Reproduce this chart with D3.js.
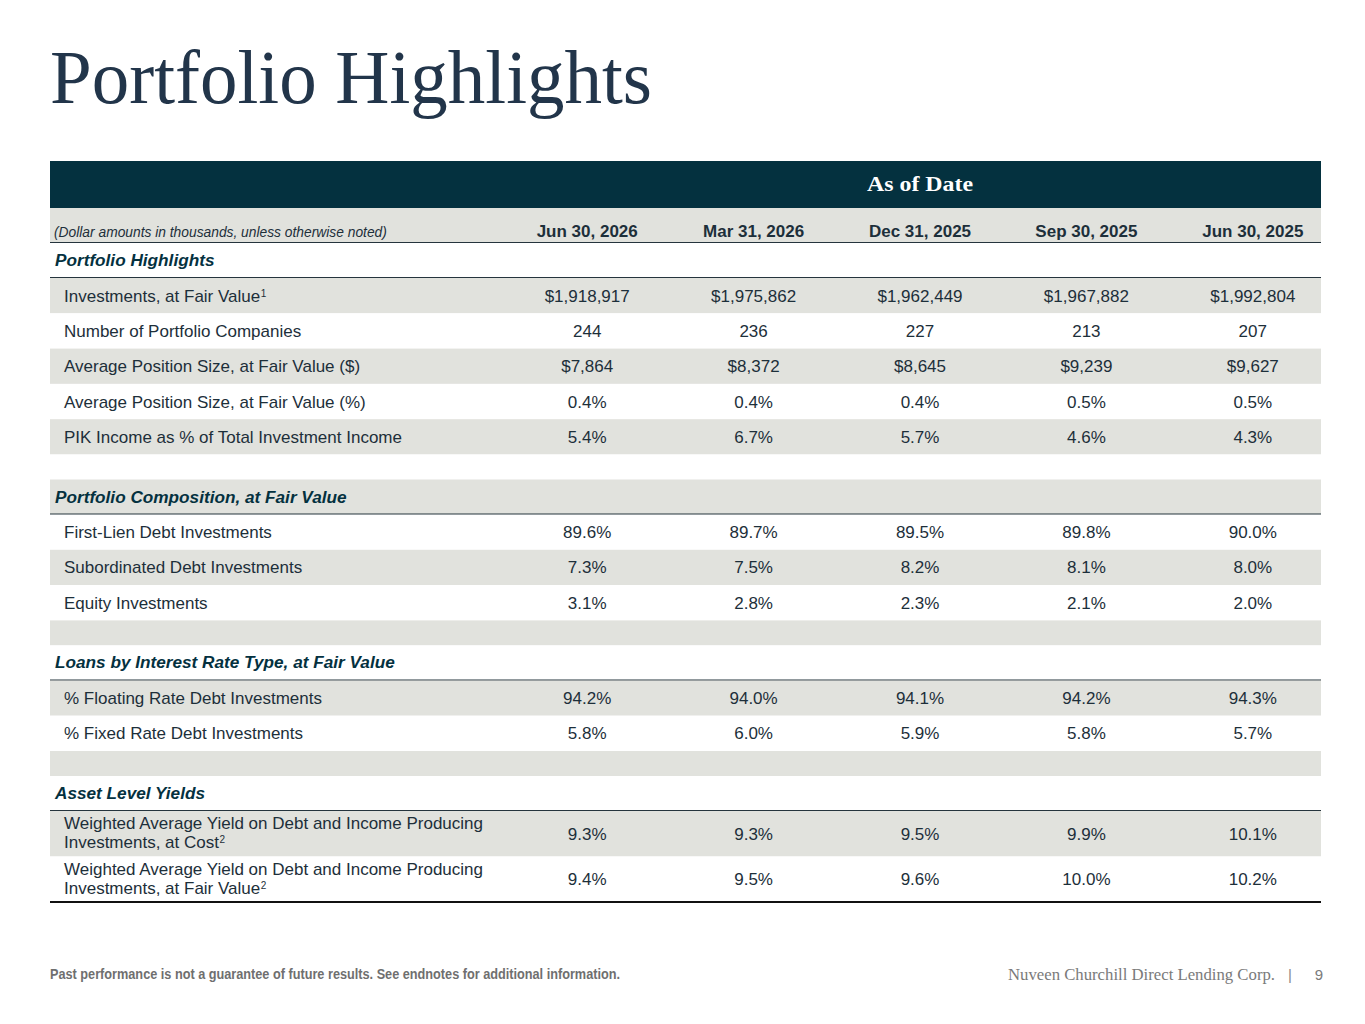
<!DOCTYPE html>
<html>
<head>
<meta charset="utf-8">
<script src="https://cdn.jsdelivr.net/npm/d3@7"></script>
<style>
  body { margin: 0; background: #fff; }
  svg text { font-family: "Liberation Sans", Arial, sans-serif; }
</style>
</head>
<body>
<svg id="chart" width="1365" height="1024"></svg>
<script>
// periods (columns)
var periods = ["Jun 30, 2026", "Mar 31, 2026", "Dec 31, 2025", "Sep 30, 2025", "Jun 30, 2025"];

// section titles
var sections = ["Portfolio Highlights", "Portfolio Composition, at Fair Value",
                "Loans by Interest Rate Type, at Fair Value", "Asset Level Yields"];

// Portfolio Highlights
var highlightLabels = ["Investments, at Fair Value|1", "Number of Portfolio Companies",
  "Average Position Size, at Fair Value ($)", "Average Position Size, at Fair Value (%)",
  "PIK Income as % of Total Investment Income"];
var highlightValues = [
  ["$1,918,917", "$1,975,862", "$1,962,449", "$1,967,882", "$1,992,804"],
  ["244", "236", "227", "213", "207"],
  ["$7,864", "$8,372", "$8,645", "$9,239", "$9,627"],
  ["0.4%", "0.4%", "0.4%", "0.5%", "0.5%"],
  ["5.4%", "6.7%", "5.7%", "4.6%", "4.3%"]
];

// Portfolio Composition
var compositionLabels = ["First-Lien Debt Investments", "Subordinated Debt Investments", "Equity Investments"];
var compositionValues = [
  ["89.6%", "89.7%", "89.5%", "89.8%", "90.0%"],
  ["7.3%", "7.5%", "8.2%", "8.1%", "8.0%"],
  ["3.1%", "2.8%", "2.3%", "2.1%", "2.0%"]
];

// Loans by rate type
var rateLabels = ["% Floating Rate Debt Investments", "% Fixed Rate Debt Investments"];
var rateValues = [
  ["94.2%", "94.0%", "94.1%", "94.2%", "94.3%"],
  ["5.8%", "6.0%", "5.9%", "5.8%", "5.7%"]
];

// Asset level yields
var yieldLabels = ["Weighted Average Yield on Debt and Income Producing~Investments, at Cost|2",
  "Weighted Average Yield on Debt and Income Producing~Investments, at Fair Value|2"];
var yieldValues = [
  ["9.3%", "9.3%", "9.5%", "9.9%", "10.1%"],
  ["9.4%", "9.5%", "9.6%", "10.0%", "10.2%"]
];

var svg = d3.select("#chart"),
    left = 50, right = 1321,
    navy = "#04313f", ink = "#1d2f3a", stripe = "#e1e2dd", rule = "#25343d",
    fs = "17px";

var x = d3.scaleBand().domain(periods).range([504, 1336]);
function cx(p) { return x(p) + x.bandwidth() / 2; }

// title
svg.append("text")
  .attr("x", left).attr("y", 103)
  .attr("textLength", 602).attr("lengthAdjust", "spacingAndGlyphs")
  .style("font-family", "'Liberation Serif', 'DejaVu Serif', serif")
  .style("font-size", "77px")
  .attr("fill", "#22354a")
  .text("Portfolio Highlights");

// header band
svg.append("rect").attr("x", left).attr("y", 161).attr("width", right - left).attr("height", 47).attr("fill", navy);
svg.append("text")
  .attr("x", cx(periods[2])).attr("y", 191)
  .attr("text-anchor", "middle")
  .attr("textLength", 106).attr("lengthAdjust", "spacingAndGlyphs")
  .style("font-family", "'Liberation Serif', 'DejaVu Serif', serif")
  .style("font-size", "21px").style("font-weight", "bold")
  .attr("fill", "#fff")
  .text("As of Date");

svg.append("rect").attr("x", left).attr("y", 208).attr("width", right - left).attr("height", 35).attr("fill", stripe);
svg.append("text").attr("x", 54).attr("y", 237)
  .style("font-size", "13.8px").style("font-style", "italic").attr("fill", ink)
  .text("(Dollar amounts in thousands, unless otherwise noted)");
svg.selectAll("text.period").data(periods).enter().append("text")
  .attr("class", "period")
  .attr("x", cx)
  .attr("y", 237)
  .attr("text-anchor", "middle")
  .style("font-size", fs).style("font-weight", "bold").attr("fill", ink)
  .text(function(d){ return d; });
svg.append("line").attr("x1", left).attr("x2", right).attr("y1", 243).attr("y2", 243)
  .attr("stroke", rule).attr("stroke-width", 2);

// build row list
var rows = [];
function section(name, labels, values, last) {
  rows.push({type: "section", label: name, h: 35});
  labels.forEach(function(l, i){
    rows.push({type: "data", label: l, values: values[i], h: l.indexOf("~") > -1 ? 45.5 : 35.3});
  });
  if (!last) rows.push({type: "gap", h: 25});
}
section(sections[0], highlightLabels, highlightValues);
section(sections[1], compositionLabels, compositionValues);
section(sections[2], rateLabels, rateValues);
section(sections[3], yieldLabels, yieldValues, true);

var y0 = 243;
rows.forEach(function(r, i){ r.y = y0; r.i = i; y0 += r.h; });

var g = svg.selectAll("g.row").data(rows).enter().append("g")
  .attr("class", "row")
  .attr("transform", function(d){ return "translate(0," + d.y + ")"; });

g.append("rect")
  .attr("x", left).attr("width", right - left)
  .attr("height", function(d){ return d.h; })
  .attr("fill", function(d){ return d.i % 2 ? stripe : "#fff"; });

g.filter(function(d){ return d.type === "section"; }).each(function(d){
  var s = d3.select(this);
  s.append("text").attr("x", 55).attr("y", 23)
    .style("font-size", "17.2px").style("font-weight", "bold").style("font-style", "italic")
    .attr("fill", navy).text(d.label);
  s.append("line").attr("x1", left).attr("x2", right).attr("y1", d.h).attr("y2", d.h)
    .attr("stroke", rule).attr("stroke-width", 2);
});

g.filter(function(d){ return d.type === "data"; }).each(function(d){
  var s = d3.select(this),
      parts = d.label.split("|"),
      lines = parts[0].split("~"),
      last;
  if (lines.length === 1) {
    last = s.append("text").attr("x", 64).attr("y", d.h / 2 + 6)
      .style("font-size", fs).attr("fill", ink).text(lines[0]);
  } else {
    s.append("text").attr("x", 64).attr("y", 18)
      .style("font-size", fs).attr("fill", ink).text(lines[0]);
    last = s.append("text").attr("x", 64).attr("y", 37)
      .style("font-size", fs).attr("fill", ink).text(lines[1]);
  }
  if (parts[1]) {
    var w = last.node().getComputedTextLength();
    s.append("text").attr("x", 64 + w + 0.5).attr("y", +last.attr("y") - 5)
      .style("font-size", "10px").attr("fill", ink).text(parts[1]);
  }
  s.selectAll("text.val").data(d.values).enter().append("text")
    .attr("class", "val")
    .attr("x", function(v, j){ return cx(periods[j]); })
    .attr("y", d.h / 2 + 6)
    .attr("text-anchor", "middle")
    .style("font-size", fs).attr("fill", ink)
    .text(function(v){ return v; });
});

// bottom rule
svg.append("line").attr("x1", left).attr("x2", right).attr("y1", y0).attr("y2", y0)
  .attr("stroke", "#111").attr("stroke-width", 2);

// footer
svg.append("text").attr("x", left).attr("y", 979)
  .attr("textLength", 570).attr("lengthAdjust", "spacingAndGlyphs")
  .style("font-size", "14px").style("font-weight", "bold").attr("fill", "#6f6f6f")
  .text("Past performance is not a guarantee of future results. See endnotes for additional information.");
svg.append("text").attr("x", 1008).attr("y", 980)
  .attr("textLength", 267).attr("lengthAdjust", "spacingAndGlyphs")
  .style("font-family", "'Liberation Serif', 'DejaVu Serif', serif")
  .style("font-size", "16px").attr("fill", "#7a7a7a")
  .text("Nuveen Churchill Direct Lending Corp.");
svg.append("text").attr("x", 1290).attr("y", 980).attr("text-anchor", "middle")
  .style("font-size", "15px").attr("fill", "#8a8a8a").text("|");
svg.append("text").attr("x", 1323).attr("y", 980).attr("text-anchor", "end")
  .style("font-size", "15px").attr("fill", "#7a7a7a").text("9");
</script>
</body>
</html>
